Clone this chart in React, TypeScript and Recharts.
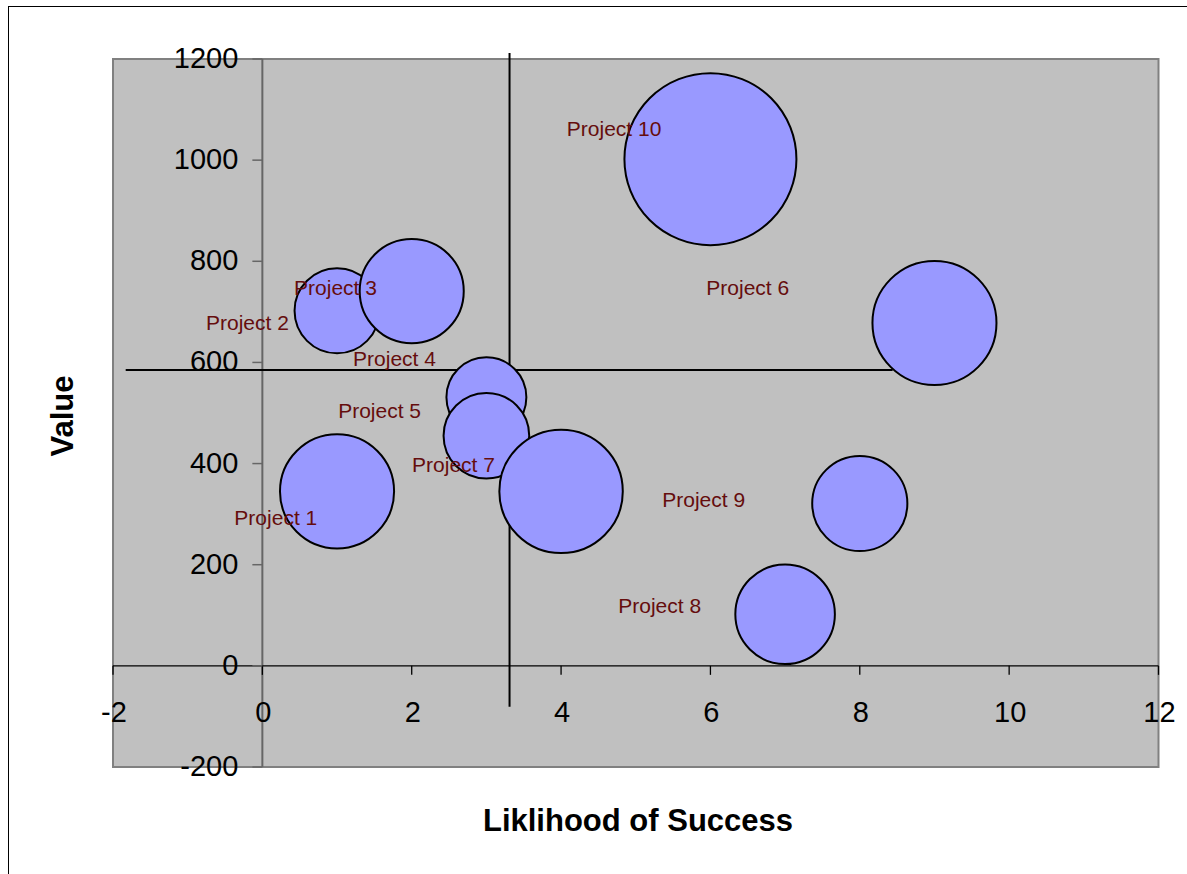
import React from 'react';
import { ScatterChart, Scatter, XAxis, YAxis, ZAxis, ReferenceArea, ReferenceLine } from 'recharts';

// Bubbles: likelihood (x), value (y), bubble size (area-proportional)
const bubbleLikelihood = [1, 1, 2, 3, 3, 4, 6, 9, 8, 7];
const bubbleValue = [345, 702, 741, 531, 455, 345, 1002, 678, 321, 102];
const bubbleSize = [44, 24.4, 36.6, 21.6, 24.8, 51.5, 100, 52, 30.6, 33.5];

// Data labels (positioned as in the original, in data units)
const labelNames = ['Project 1', 'Project 2', 'Project 3', 'Project 4', 'Project 5', 'Project 6', 'Project 7', 'Project 8', 'Project 9', 'Project 10'];
const labelX = [0.18, -0.2, 0.98, 1.77, 1.57, 6.5, 2.56, 5.32, 5.91, 4.71];
const labelY = [294, 678, 749, 608, 504, 748, 399, 120, 329, 1062];

// Axis ticks
const xTicks = [-2, 0, 2, 4, 6, 8, 10, 12];
const yTicks = [-200, 0, 200, 400, 600, 800, 1000, 1200];

// Cross lines
const vLineX = 3.31;
const vLineY = [-81, 1212];
const hLineY = 585;
const hLineX = [-1.83, 8.44];

const X_DOMAIN: [number, number] = [-2, 12];
const Y_DOMAIN: [number, number] = [-200, 1200];
const SIZE_DOMAIN: [number, number] = [0, 100];
const MAX_RADIUS = 86;

const FONT = '"Liberation Sans", Arial, sans-serif';

const bubbleData = bubbleLikelihood.map((x, i) => ({ x, y: bubbleValue[i], z: bubbleSize[i] }));
const labelData = labelNames.map((name, i) => ({ x: labelX[i], y: labelY[i], name }));
const xTickData = xTicks.map((v) => ({ x: v, y: 0 }));
const yTickData = yTicks.map((v) => ({ x: 0, y: v }));

const XTickShape = (props: any) => {
  const { cx, cy, payload } = props;
  return (
    <g>
      <line x1={cx} y1={cy} x2={cx} y2={cy + 9} stroke="#000" strokeWidth={1.3} />
      <text x={cx + 1} y={cy + 56} textAnchor="middle" fontSize={29} fontFamily={FONT} fill="#000">
        {payload.x}
      </text>
    </g>
  );
};

const YTickShape = (props: any) => {
  const { cx, cy, payload } = props;
  return (
    <g>
      <line x1={cx - 10} y1={cy} x2={cx} y2={cy} stroke="#666" strokeWidth={1.5} />
      <text x={cx - 24} y={cy + 9} textAnchor="end" fontSize={29} fontFamily={FONT} fill="#000">
        {payload.y}
      </text>
    </g>
  );
};

const LabelShape = (props: any) => {
  const { cx, cy, payload } = props;
  return (
    <text x={cx} y={cy + 7.5} textAnchor="middle" fontSize={21} fontFamily={FONT} fill="#650d0d">
      {payload.name}
    </text>
  );
};

export default function App() {
  return (
    <div style={{ position: 'absolute', left: 0, top: 0, width: 1187, height: 874, overflow: 'hidden', background: '#fff' }}>
      <div
        style={{
          position: 'absolute',
          left: 8,
          top: 6,
          width: 1300,
          height: 1000,
          borderLeft: '1px solid #000',
          borderTop: '1px solid #000',
        }}
      />
      <div style={{ position: 'absolute', left: 0, top: 0 }}>
        <ScatterChart width={1187} height={874} margin={{ top: 59, right: 28.5, bottom: 107, left: 113 }}>
          <XAxis type="number" dataKey="x" domain={X_DOMAIN} ticks={xTicks} hide />
          <YAxis type="number" dataKey="y" domain={Y_DOMAIN} ticks={yTicks} hide />
          <ZAxis type="number" dataKey="z" domain={SIZE_DOMAIN} range={[0, Math.PI * MAX_RADIUS * MAX_RADIUS]} />
          <ReferenceArea
            x1={X_DOMAIN[0]}
            x2={X_DOMAIN[1]}
            y1={Y_DOMAIN[0]}
            y2={Y_DOMAIN[1]}
            fill="#C0C0C0"
            fillOpacity={1}
            stroke="#808080"
            strokeWidth={2}
          />
          <ReferenceLine x={0} stroke="#666" strokeWidth={2} />
          <ReferenceLine y={0} stroke="#000" strokeWidth={1.3} />
          <Scatter data={xTickData} shape={XTickShape} isAnimationActive={false} />
          <Scatter data={yTickData} shape={YTickShape} isAnimationActive={false} />
          <Scatter data={bubbleData} fill="#9999FF" stroke="#000" strokeWidth={2} isAnimationActive={false} />
          <ReferenceLine
            segment={[{ x: vLineX, y: vLineY[0] }, { x: vLineX, y: vLineY[1] }]}
            stroke="#000"
            strokeWidth={2}
            ifOverflow="visible"
          />
          <ReferenceLine
            segment={[{ x: hLineX[0], y: hLineY }, { x: hLineX[1], y: hLineY }]}
            stroke="#000"
            strokeWidth={2}
            ifOverflow="visible"
          />
          <Scatter data={labelData} shape={LabelShape} isAnimationActive={false} />
        </ScatterChart>
      </div>
      <svg width={1187} height={874} style={{ position: 'absolute', left: 0, top: 0, pointerEvents: 'none' }}>
        <text x={638} y={831} textAnchor="middle" fontSize={31} fontWeight="bold" fontFamily={FONT} fill="#000">
          Liklihood of Success
        </text>
        <text
          x={0}
          y={0}
          transform="translate(73 416) rotate(-90)"
          textAnchor="middle"
          fontSize={31}
          fontWeight="bold"
          fontFamily={FONT}
          fill="#000"
        >
          Value
        </text>
      </svg>
    </div>
  );
}
